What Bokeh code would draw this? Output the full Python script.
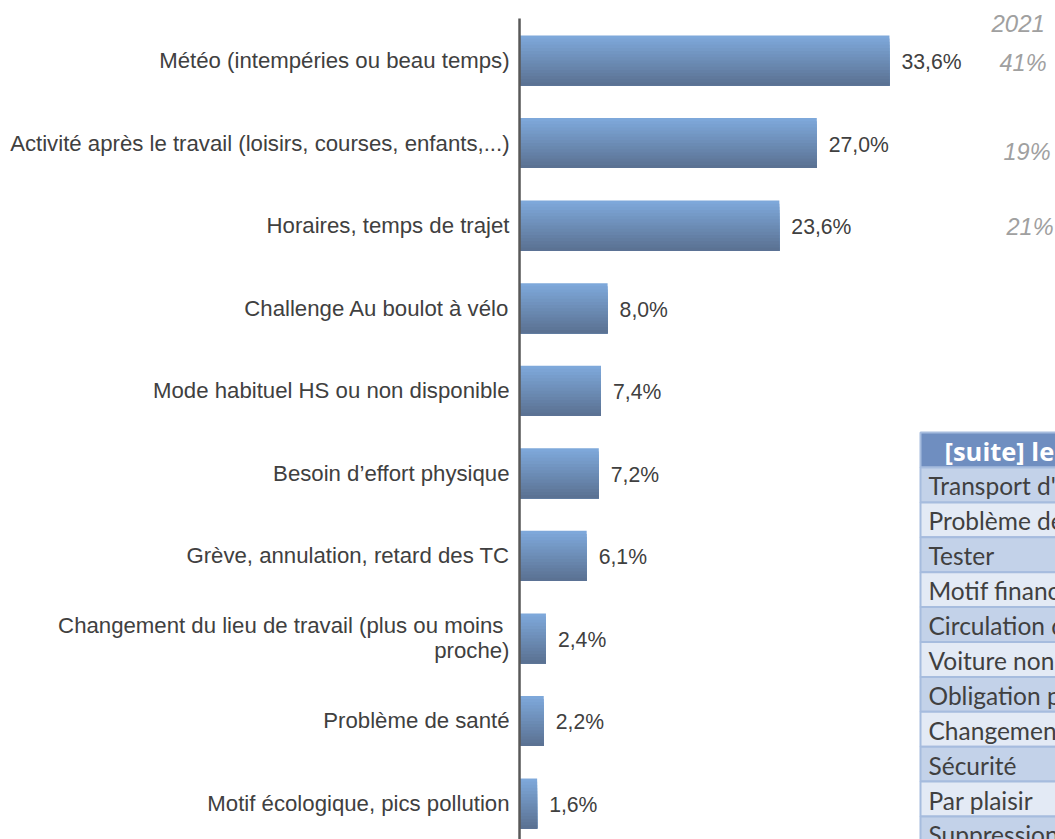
from bokeh.plotting import figure
from bokeh.models import Range1d
from bokeh.core.properties import value
from bokeh.embed import file_html
from bokeh.resources import INLINE

categories = [
    "Météo (intempéries ou beau temps)",
    "Activité après le travail (loisirs, courses, enfants,...)",
    "Horaires, temps de trajet",
    "Challenge Au boulot à vélo",
    "Mode habituel HS ou non disponible",
    "Besoin d’effort physique",
    "Grève, annulation, retard des TC",
    "Changement du lieu de travail (plus ou moins \nproche)",
    "Problème de santé",
    "Motif écologique, pics pollution",
]
values = [33.6, 27.0, 23.6, 8.0, 7.4, 7.2, 6.1, 2.4, 2.2, 1.6]
value_labels = ["33,6%", "27,0%", "23,6%", "8,0%", "7,4%", "7,2%", "6,1%", "2,4%", "2,2%", "1,6%"]

year_label = "2021"
labels_2021 = ["41%", "19%", "21%"]

table_title = "[suite] les autres motifs"
table_rows = [
    "Transport d'un objet",
    "Problème de véhicule",
    "Tester",
    "Motif financier",
    "Circulation difficile",
    "Voiture non disponible",
    "Obligation professionnelle",
    "Changement de domicile",
    "Sécurité",
    "Par plaisir",
    "Suppression d'une ligne",
]

W, H = 1055, 839
p = figure(width=W, height=H, output_backend="svg", toolbar_location=None,
           x_range=Range1d(-47.14, 48.68), y_range=Range1d(9.4356, -0.7267),
           min_border=0, min_border_left=0, min_border_right=0,
           min_border_top=0, min_border_bottom=0)
p.axis.visible = False
p.grid.visible = False
p.outline_line_color = None
p.background_fill_color = "white"
p.border_fill_color = "white"

# page-pixel helper ranges for decorations
p.extra_x_ranges = {"px": Range1d(0, W)}
p.extra_y_ranges = {"py": Range1d(H, 0)}

ys = list(range(len(categories)))
bar_h = 0.606

# gradient bars: overlapping slices from each slice top down to the bar bottom
N = 16
top = (126, 168, 218)
bot = (91, 114, 147)
dh = bar_h / N
for k in range(N):
    t = k / (N - 1)
    c = tuple(int(round(top[j] + (bot[j] - top[j]) * t)) for j in range(3))
    col = "#%02x%02x%02x" % c
    p.quad(left=[0] * len(ys), right=values,
           top=[y - bar_h / 2 + k * dh for y in ys],
           bottom=[y + bar_h / 2 for y in ys],
           fill_color=col, line_color=None)

# axis line
p.segment(x0=[0], y0=[-0.509], x1=[0], y1=[9.6], line_color="#595959", line_width=2.5)

# category labels
p.text(x=[0] * len(ys), y=ys, text=categories, x_offset=-10, y_offset=0,
       text_align="right", text_baseline="middle", text_font=value("Liberation Sans"),
       text_font_size="22.2px", text_color="#404040", text_line_height=1.0)

# value labels
p.text(x=values, y=ys, text=value_labels, x_offset=12, y_offset=1,
       text_align="left", text_baseline="middle", text_font=value("Liberation Sans"),
       text_font_size="21.2px", text_color="#404040")

# 2021 comparison annotations
p.text(x=[991], y=[23], text=[year_label], x_range_name="px", y_range_name="py",
       text_align="left", text_baseline="middle", text_font=value("Liberation Sans"),
       text_font_style="italic", text_font_size="24px", text_color="#A0A0A0")
p.text(x=[999, 1003, 1006], y=[62, 151, 226], text=labels_2021, x_range_name="px", y_range_name="py",
       text_align="left", text_baseline="middle", text_font=value("Liberation Sans"),
       text_font_style="italic", text_font_size="23.5px", text_color="#A0A0A0")

# table
tx0, tx1 = 920, 1100
hy0, hy1 = 432, 467
rh = 34.9
p.quad(left=[tx0], right=[tx1], top=[hy0], bottom=[hy1], x_range_name="px", y_range_name="py",
       fill_color="#6F8EC0", line_color="#A6BCDE", line_width=2)
p.text(x=[944], y=[(hy0 + hy1) / 2 + 1], text=[table_title], x_range_name="px", y_range_name="py",
       text_align="left", text_baseline="middle", text_font=value("Open Sans"), text_font_style="bold",
       text_font_size="25.5px", text_color="white")
tops = [hy1 + i * rh for i in range(len(table_rows))]
bots = [t + rh for t in tops]
cols = ["#C3D2E9" if i % 2 == 0 else "#E3EAF5" for i in range(len(table_rows))]
p.quad(left=[tx0] * len(tops), right=[tx1] * len(tops), top=tops, bottom=bots,
       x_range_name="px", y_range_name="py", fill_color=cols, line_color="#A6BCDE", line_width=2)
p.text(x=[928] * len(tops), y=[t + rh / 2 + 1 for t in tops], text=table_rows,
       x_range_name="px", y_range_name="py", text_align="left", text_baseline="middle",
       text_font=value("Lato"), text_font_size="24.5px", text_color="#404040")

open("out.html", "w").write(file_html(p, INLINE))
